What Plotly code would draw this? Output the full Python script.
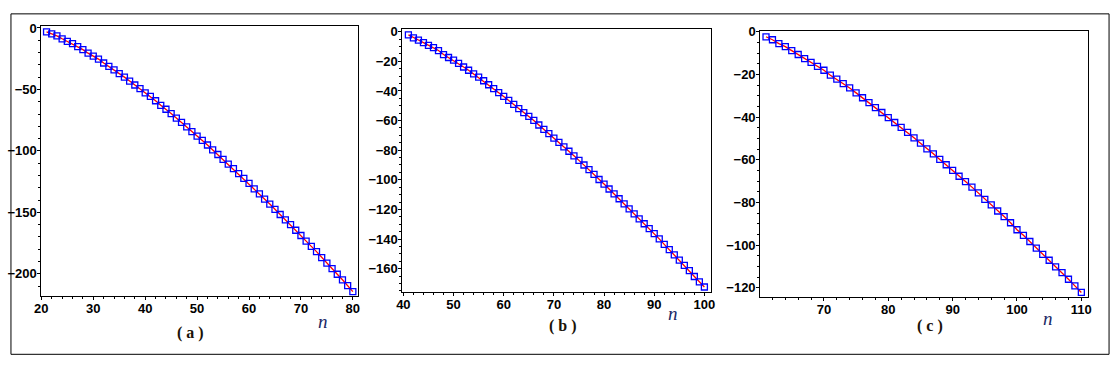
import plotly.graph_objects as go

# panel (a)
n_a = list(range(21, 81))
v_a = [-3.2, -4.8, -6.4, -8.8, -10.9, -12.8, -15.2, -17.6, -20.5, -22.9,
       -25.3, -28.5, -31.2, -34.1, -37.1, -40.0, -43.2, -46.4, -49.3, -52.8,
       -55.7, -59.2, -62.9, -66.1, -69.6, -73.3, -76.8, -80.5, -84.3, -88.0,
       -91.5, -95.2, -99.2, -102.9, -106.9, -110.7, -114.4, -118.4, -122.4, -126.4,
       -130.9, -134.9, -139.2, -143.2, -147.5, -151.7, -156.0, -160.0, -164.5, -168.8,
       -173.3, -177.6, -181.9, -186.7, -191.2, -195.7, -200.3, -204.8, -209.6, -214.4]

# panel (b)
n_b = list(range(41, 101))
v_b = [-2.1, -4.1, -5.6, -7.4, -9.2, -10.7, -12.7, -15.4, -17.4, -19.2,
       -21.4, -23.8, -26.0, -28.5, -30.7, -33.1, -35.8, -38.4, -41.1, -43.7,
       -46.4, -49.0, -51.9, -54.6, -57.2, -59.9, -63.0, -65.9, -68.8, -71.9,
       -74.7, -77.8, -80.7, -83.8, -86.9, -90.0, -93.1, -96.4, -99.8, -102.9,
       -106.2, -109.5, -112.8, -116.2, -119.7, -123.0, -126.4, -129.7, -133.0, -136.4,
       -139.9, -143.6, -147.1, -150.7, -154.2, -157.8, -161.4, -165.3, -168.9, -172.4]

# panel (c)
n_c = list(range(61, 111))
v_c = [-2.3, -3.7, -5.5, -6.9, -8.8, -10.6, -12.5, -14.3, -16.2, -18.0,
       -20.3, -22.2, -24.3, -26.3, -28.6, -30.9, -33.2, -35.5, -37.8, -40.2,
       -42.5, -44.8, -47.1, -49.7, -52.2, -54.9, -57.2, -59.8, -62.3, -64.9,
       -67.7, -70.2, -72.8, -75.5, -78.5, -81.1, -84.0, -86.6, -89.5, -92.8,
       -95.4, -98.3, -101.4, -104.3, -107.1, -110.2, -112.9, -116.0, -119.1, -122.2]

W, H = 1119, 373
tickfont = dict(family="Liberation Sans", size=13, color="black", weight="bold")

panels = [
    # n, v, x px (left,right), y px (top,bottom), x range, y range, y dtick, y minor
    (n_a, v_a, (34.7, 354.0), (20.7, 295.0), [20, 80.9], [-218.2, 1.3], 50, 10, "( a )", (185, 332), (319, 321)),
    (n_b, v_b, (399.3, 710.7), (23.3, 291.0), [39.8, 101.26], [-176.0, 1.9], 20, 5, "( b )", (562, 325), (673, 313)),
    (n_c, v_c, (760.7, 1091.7), (25.0, 295.7), [60.1, 111.03], [-124.3, 0.6], 20, 5, "( c )", (932, 325), (1051, 318)),
]

fig = go.Figure()
annotations = []
for i, (n, v, xp, yp, xr, yr, ydt, ymin, lab, labpos, npos) in enumerate(panels):
    sfx = "" if i == 0 else str(i + 1)
    fig.add_trace(go.Scatter(x=n, y=v, mode="lines", line=dict(color="#ff0000", width=1.3),
                             xaxis="x" + sfx, yaxis="y" + sfx, showlegend=False))
    fig.add_trace(go.Scatter(x=n, y=v, mode="markers",
                             marker=dict(symbol="square-open", size=6, color="#0000ff",
                                         line=dict(width=1.3, color="#0000ff")),
                             xaxis="x" + sfx, yaxis="y" + sfx, showlegend=False))
    common = dict(showgrid=False, zeroline=False, showline=True, linecolor="black", linewidth=1,
                  mirror=True, ticks="outside", ticklen=3, tickcolor="black", tickwidth=1,
                  tickfont=tickfont, tickprefix="<b>", ticksuffix="</b>")
    fig.layout["xaxis" + sfx] = dict(common, domain=[xp[0] / W, xp[1] / W], range=xr,
                                     anchor="y" + sfx, dtick=10, tick0=0, ticklabelstandoff=-3,
                                     minor=dict(dtick=2, ticks="outside", ticklen=2, tickcolor="black"))
    fig.layout["yaxis" + sfx] = dict(common, domain=[1 - yp[1] / H, 1 - yp[0] / H], range=yr,
                                     anchor="x" + sfx, dtick=ydt, tick0=0, ticklabelstandoff=-2,
                                     minor=dict(dtick=ymin, ticks="outside", ticklen=2, tickcolor="black"))
    annotations.append(dict(x=labpos[0] / W, y=1 - labpos[1] / H, xref="paper", yref="paper",
                            xanchor="center", yanchor="middle",
                            text="<b>" + lab + "</b>", showarrow=False,
                            font=dict(family="Liberation Serif", size=16, color="#1a1208")))
    annotations.append(dict(x=npos[0] / W, y=1 - npos[1] / H, xref="paper", yref="paper",
                            xanchor="center", yanchor="middle",
                            text="<i>n</i>", showarrow=False,
                            font=dict(family="Liberation Serif", size=19, color="#1c2a66")))

fig.update_layout(
    width=W, height=H,
    margin=dict(l=0, r=0, t=0, b=0),
    paper_bgcolor="white", plot_bgcolor="white",
    annotations=annotations,
    shapes=[dict(type="rect", xref="paper", yref="paper",
                 x0=4 / W, x1=1113 / W, y0=1 - 354 / H, y1=1 - 8 / H,
                 line=dict(color="black", width=1))],
)

fig.write_html("out.html", config={"displayModeBar": False},
               post_script="document.body.style.margin='0';document.body.style.overflow='hidden';")
